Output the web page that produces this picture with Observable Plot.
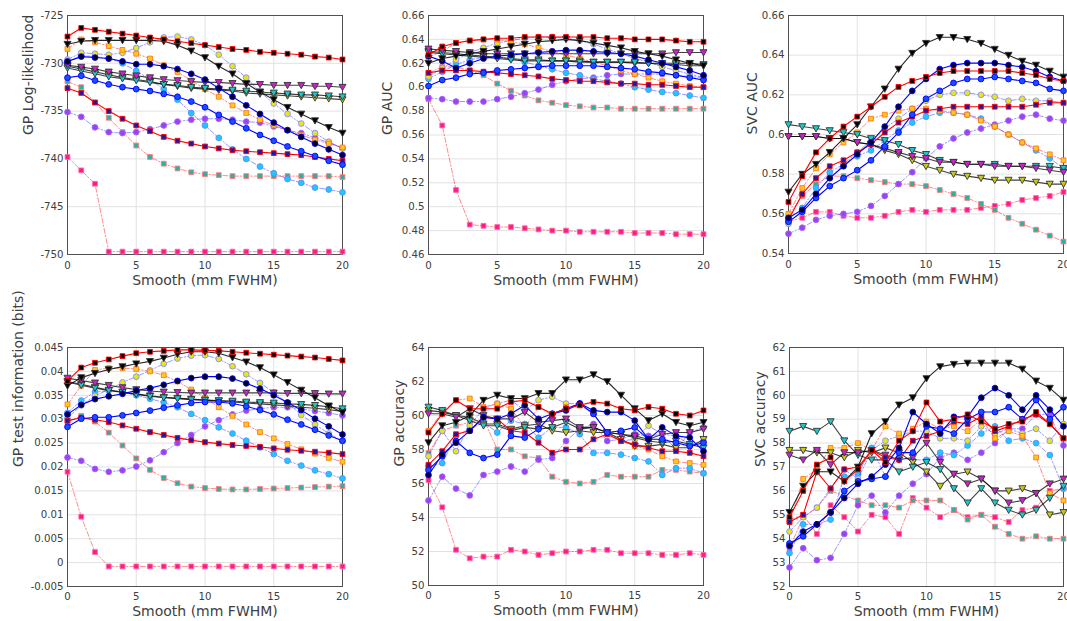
<!DOCTYPE html>
<html>
<head>
<meta charset="utf-8">
<script src="https://cdn.jsdelivr.net/npm/d3@7"></script>
<script src="https://cdn.jsdelivr.net/npm/@observablehq/plot@0.6"></script>
<style>
  html, body { margin: 0; padding: 0; background: #fff; }
  #chart { position: relative; width: 1067px; height: 621px; background: #fff; overflow: hidden; }
  #chart > svg { position: absolute; }
</style>
</head>
<body>
<div id="chart"></div>
<script>
// ---------- categories ----------
const smooth = [0,1,2,3,4,5,6,7,8,9,10,11,12,13,14,15,16,17,18,19,20];
const xTicks = [0,5,10,15,20];
const seriesNames = ["S1","S2","S3","S4","S5","S6","S7","S8","S9","S10","S11","S12","S13","S14"];

// ---------- tick labels ----------
const ticksGpLogLik = [-750,-745,-740,-735,-730,-725];
const ticksGpAuc = [0.46,0.48,0.5,0.52,0.54,0.56,0.58,0.6,0.62,0.64,0.66];
const ticksSvcAuc = [0.54,0.56,0.58,0.6,0.62,0.64,0.66];
const ticksGpInfo = [-0.005,0,0.005,0.01,0.015,0.02,0.025,0.03,0.035,0.04,0.045];
const ticksGpAcc = [50,52,54,56,58,60,62,64];
const ticksSvcAcc = [52,53,54,55,56,57,58,59,60,61,62];

// ---------- series values (one row per series S1..S14) ----------
const gpLogLik = [
  [-727.2,-726.3,-726.5,-726.7,-726.9,-727.1,-727.3,-727.5,-727.7,-727.9,-728.1,-728.3,-728.5,-728.6,-728.8,-728.9,-729.0,-729.1,-729.3,-729.4,-729.6],
  [-728.0,-727.7,-727.6,-727.6,-727.6,-727.6,-727.6,-727.7,-728.1,-728.7,-729.4,-730.3,-731.1,-732.1,-733.0,-733.8,-734.6,-735.3,-736.0,-736.7,-737.3],
  [-729.8,-729.3,-729.4,-729.5,-729.8,-730.1,-730.1,-730.3,-730.6,-731.1,-731.7,-732.6,-733.5,-734.4,-735.3,-736.2,-737.0,-737.7,-738.4,-739.0,-739.6],
  [-731.5,-731.3,-731.8,-732.2,-732.5,-732.7,-732.9,-733.2,-733.5,-734.0,-734.6,-735.4,-736.1,-736.8,-737.5,-738.1,-738.7,-739.2,-739.7,-740.2,-740.6],
  [-732.6,-733.1,-734.1,-735.0,-735.8,-736.5,-737.1,-737.7,-738.1,-738.4,-738.7,-738.9,-739.1,-739.2,-739.3,-739.4,-739.5,-739.6,-739.8,-740.0,-740.2],
  [-730.2,-730.4,-730.6,-730.9,-731.1,-731.3,-731.5,-731.7,-731.8,-731.9,-732.0,-732.0,-732.1,-732.2,-732.2,-732.3,-732.3,-732.3,-732.4,-732.4,-732.5],
  [-730.5,-730.8,-731.1,-731.4,-731.6,-731.8,-732.0,-732.2,-732.3,-732.5,-732.6,-732.7,-732.8,-732.9,-733.0,-733.1,-733.2,-733.3,-733.3,-733.4,-733.5],
  [-730.3,-730.6,-730.9,-731.2,-731.5,-731.7,-731.9,-732.2,-732.4,-732.6,-732.7,-732.8,-732.9,-733.1,-733.2,-733.3,-733.4,-733.5,-733.6,-733.7,-733.8],
  [-728.5,-727.5,-727.8,-728.2,-728.6,-729.0,-729.5,-730.2,-730.9,-731.8,-732.7,-733.5,-734.4,-735.2,-735.9,-736.5,-737.0,-737.5,-738.0,-738.4,-738.8],
  [-729.6,-728.9,-729.0,-729.1,-728.9,-728.4,-727.8,-727.3,-727.2,-727.5,-728.1,-729.1,-730.3,-731.5,-733.0,-734.2,-735.3,-736.3,-737.3,-738.2,-738.9],
  [-729.9,-729.2,-729.3,-729.5,-730.0,-730.8,-731.7,-732.7,-733.8,-735.2,-736.5,-737.8,-739.0,-740.0,-740.8,-741.5,-742.1,-742.5,-743.0,-743.2,-743.5],
  [-735.1,-735.6,-736.7,-737.2,-737.3,-737.2,-736.9,-736.5,-736.1,-735.9,-735.8,-735.8,-735.9,-736.1,-736.2,-736.6,-737.0,-737.3,-737.8,-738.3,-738.9],
  [-731.9,-732.5,-734.1,-735.7,-737.2,-738.6,-739.8,-740.5,-741.0,-741.4,-741.6,-741.7,-741.8,-741.8,-741.8,-741.8,-741.8,-741.8,-741.8,-741.8,-741.9],
  [-739.8,-741.2,-742.6,-749.7,-749.7,-749.7,-749.7,-749.7,-749.7,-749.7,-749.7,-749.7,-749.7,-749.7,-749.7,-749.7,-749.7,-749.7,-749.7,-749.7,-749.7]
];
const gpAuc = [
  [0.627,0.634,0.637,0.639,0.640,0.641,0.641,0.642,0.642,0.642,0.642,0.642,0.642,0.641,0.641,0.640,0.640,0.640,0.639,0.638,0.638],
  [0.620,0.624,0.626,0.628,0.630,0.632,0.634,0.636,0.638,0.639,0.640,0.639,0.637,0.635,0.633,0.630,0.628,0.626,0.623,0.620,0.618],
  [0.626,0.622,0.616,0.620,0.624,0.626,0.627,0.628,0.629,0.630,0.631,0.631,0.630,0.629,0.628,0.626,0.623,0.620,0.617,0.614,0.610],
  [0.601,0.606,0.608,0.611,0.612,0.614,0.615,0.616,0.617,0.618,0.618,0.618,0.618,0.617,0.616,0.615,0.613,0.612,0.610,0.608,0.606],
  [0.612,0.614,0.614,0.614,0.613,0.612,0.611,0.610,0.609,0.607,0.606,0.605,0.605,0.604,0.603,0.603,0.602,0.602,0.601,0.600,0.600],
  [0.632,0.631,0.630,0.629,0.628,0.628,0.628,0.628,0.628,0.628,0.628,0.628,0.628,0.628,0.628,0.628,0.628,0.628,0.629,0.629,0.629],
  [0.629,0.628,0.627,0.626,0.625,0.624,0.623,0.622,0.622,0.622,0.622,0.621,0.621,0.621,0.621,0.621,0.620,0.620,0.620,0.620,0.619],
  [0.630,0.629,0.628,0.627,0.626,0.625,0.624,0.623,0.623,0.622,0.622,0.622,0.621,0.621,0.621,0.620,0.620,0.619,0.619,0.618,0.618],
  [0.625,0.630,0.637,0.639,0.640,0.640,0.638,0.636,0.633,0.630,0.627,0.624,0.621,0.618,0.614,0.611,0.608,0.605,0.603,0.601,0.600],
  [0.609,0.616,0.623,0.629,0.633,0.637,0.639,0.641,0.642,0.642,0.641,0.639,0.636,0.632,0.628,0.624,0.621,0.617,0.614,0.611,0.608],
  [0.607,0.613,0.619,0.623,0.625,0.625,0.624,0.621,0.618,0.615,0.612,0.610,0.607,0.605,0.603,0.600,0.598,0.596,0.595,0.593,0.591],
  [0.591,0.590,0.588,0.588,0.588,0.590,0.592,0.595,0.598,0.602,0.605,0.607,0.608,0.610,0.611,0.611,0.611,0.611,0.610,0.609,0.608],
  [0.612,0.617,0.617,0.614,0.610,0.603,0.597,0.593,0.589,0.587,0.585,0.584,0.583,0.583,0.582,0.582,0.582,0.582,0.582,0.582,0.582],
  [0.590,0.568,0.514,0.485,0.484,0.483,0.483,0.482,0.481,0.480,0.480,0.479,0.479,0.479,0.479,0.478,0.478,0.478,0.477,0.477,0.477]
];
const svcAuc = [
  [0.566,0.579,0.591,0.598,0.604,0.609,0.614,0.619,0.624,0.627,0.629,0.631,0.632,0.632,0.632,0.632,0.632,0.631,0.630,0.628,0.627],
  [0.571,0.580,0.585,0.591,0.598,0.605,0.614,0.623,0.633,0.641,0.646,0.649,0.649,0.648,0.646,0.643,0.640,0.637,0.635,0.632,0.629],
  [0.558,0.562,0.570,0.578,0.584,0.590,0.596,0.604,0.614,0.622,0.628,0.633,0.635,0.636,0.636,0.636,0.635,0.634,0.632,0.629,0.627],
  [0.556,0.561,0.568,0.574,0.578,0.582,0.587,0.594,0.601,0.610,0.618,0.622,0.626,0.628,0.628,0.629,0.628,0.627,0.626,0.623,0.622],
  [0.557,0.570,0.578,0.584,0.587,0.591,0.595,0.601,0.606,0.609,0.612,0.613,0.614,0.614,0.614,0.614,0.614,0.614,0.615,0.616,0.616],
  [0.599,0.599,0.599,0.598,0.598,0.596,0.595,0.593,0.591,0.589,0.588,0.586,0.586,0.585,0.585,0.584,0.584,0.584,0.583,0.582,0.581],
  [0.605,0.604,0.603,0.602,0.601,0.600,0.598,0.597,0.595,0.592,0.590,0.587,0.586,0.585,0.585,0.585,0.584,0.584,0.584,0.584,0.583],
  [0.599,0.599,0.599,0.598,0.598,0.596,0.595,0.592,0.590,0.587,0.584,0.582,0.580,0.579,0.578,0.577,0.577,0.577,0.576,0.575,0.575],
  [0.560,0.573,0.583,0.590,0.596,0.601,0.608,0.610,0.612,0.613,0.613,0.612,0.611,0.610,0.607,0.604,0.600,0.596,0.593,0.590,0.587],
  [0.555,0.562,0.570,0.578,0.585,0.591,0.597,0.603,0.608,0.613,0.617,0.620,0.621,0.621,0.620,0.619,0.617,0.618,0.617,0.617,0.616],
  [0.557,0.563,0.573,0.581,0.585,0.589,0.592,0.597,0.602,0.606,0.609,0.611,0.611,0.610,0.608,0.604,0.600,0.596,0.592,0.588,0.583],
  [0.550,0.553,0.557,0.559,0.560,0.561,0.564,0.569,0.575,0.581,0.588,0.594,0.598,0.601,0.603,0.605,0.607,0.609,0.610,0.608,0.607],
  [0.559,0.569,0.575,0.579,0.579,0.578,0.577,0.576,0.575,0.575,0.574,0.572,0.570,0.568,0.565,0.562,0.558,0.555,0.552,0.549,0.546],
  [0.556,0.558,0.561,0.561,0.559,0.558,0.558,0.559,0.561,0.562,0.561,0.562,0.562,0.562,0.563,0.564,0.565,0.567,0.568,0.569,0.571]
];
const gpInfo = [
  [0.0380,0.0408,0.0418,0.0425,0.0432,0.0438,0.0441,0.0443,0.0445,0.0445,0.0444,0.0443,0.0441,0.0439,0.0437,0.0435,0.0433,0.0431,0.0429,0.0426,0.0423],
  [0.0370,0.0387,0.0396,0.0404,0.0410,0.0416,0.0421,0.0428,0.0436,0.0441,0.0441,0.0438,0.0429,0.0420,0.0408,0.0393,0.0377,0.0361,0.0345,0.0328,0.0314],
  [0.0310,0.0330,0.0342,0.0348,0.0353,0.0360,0.0365,0.0372,0.0380,0.0386,0.0389,0.0389,0.0385,0.0375,0.0364,0.0350,0.0335,0.0319,0.0301,0.0285,0.0268],
  [0.0284,0.0301,0.0304,0.0304,0.0308,0.0313,0.0318,0.0324,0.0329,0.0334,0.0336,0.0336,0.0333,0.0327,0.0319,0.0310,0.0299,0.0289,0.0278,0.0266,0.0255],
  [0.0297,0.0303,0.0299,0.0294,0.0287,0.0280,0.0273,0.0267,0.0261,0.0256,0.0252,0.0249,0.0246,0.0244,0.0242,0.0239,0.0236,0.0234,0.0232,0.0230,0.0227],
  [0.0386,0.0381,0.0376,0.0371,0.0366,0.0362,0.0359,0.0357,0.0356,0.0355,0.0355,0.0355,0.0355,0.0355,0.0355,0.0355,0.0354,0.0354,0.0354,0.0353,0.0353],
  [0.0378,0.0371,0.0365,0.0360,0.0356,0.0352,0.0348,0.0345,0.0343,0.0341,0.0340,0.0339,0.0338,0.0336,0.0335,0.0334,0.0332,0.0331,0.0329,0.0326,0.0322],
  [0.0379,0.0373,0.0367,0.0361,0.0357,0.0353,0.0349,0.0346,0.0344,0.0342,0.0340,0.0338,0.0336,0.0334,0.0332,0.0330,0.0328,0.0325,0.0323,0.0320,0.0316],
  [0.0331,0.0370,0.0403,0.0407,0.0407,0.0405,0.0400,0.0392,0.0379,0.0362,0.0345,0.0325,0.0307,0.0289,0.0273,0.0260,0.0248,0.0237,0.0228,0.0219,0.0211],
  [0.0302,0.0329,0.0349,0.0362,0.0377,0.0389,0.0402,0.0416,0.0427,0.0433,0.0434,0.0426,0.0411,0.0394,0.0376,0.0356,0.0334,0.0309,0.0289,0.0270,0.0254],
  [0.0313,0.0339,0.0357,0.0360,0.0357,0.0350,0.0343,0.0335,0.0325,0.0311,0.0298,0.0283,0.0270,0.0255,0.0241,0.0227,0.0213,0.0203,0.0193,0.0185,0.0176],
  [0.0220,0.0213,0.0196,0.0190,0.0193,0.0201,0.0214,0.0231,0.0250,0.0267,0.0285,0.0298,0.0310,0.0318,0.0322,0.0325,0.0325,0.0322,0.0317,0.0313,0.0308],
  [0.0294,0.0307,0.0295,0.0272,0.0245,0.0218,0.0194,0.0177,0.0166,0.0159,0.0156,0.0154,0.0153,0.0153,0.0154,0.0155,0.0156,0.0157,0.0158,0.0159,0.0160],
  [0.0190,0.0096,0.0022,-0.0008,-0.0008,-0.0008,-0.0008,-0.0008,-0.0008,-0.0008,-0.0008,-0.0008,-0.0008,-0.0008,-0.0008,-0.0008,-0.0008,-0.0008,-0.0008,-0.0008,-0.0008]
];
const gpAcc = [
  [59.0,60.1,60.9,60.4,60.4,60.4,60.8,60.9,60.5,60.1,60.4,60.6,60.8,60.7,60.4,60.3,60.5,60.4,60.1,60.0,60.3],
  [58.4,59.4,59.6,60.0,60.9,61.2,61.0,61.0,61.3,61.3,62.1,62.1,62.4,62.0,61.2,60.4,59.7,60.1,59.6,59.4,59.6],
  [56.5,57.7,58.4,59.1,59.9,59.8,60.1,60.6,59.8,60.1,60.3,60.7,60.3,60.2,60.2,59.7,58.6,59.3,58.8,58.7,57.9],
  [56.8,57.6,58.5,57.8,57.5,57.7,58.8,58.7,59.2,60.1,60.4,60.7,60.1,59.0,59.1,59.3,58.6,58.6,58.4,58.2,58.4],
  [57.1,57.9,58.9,59.1,59.9,59.8,59.1,59.0,58.4,57.8,58.0,58.0,58.6,58.9,58.5,58.3,58.1,57.9,57.9,57.8,57.6],
  [60.1,60.1,59.9,60.4,60.0,59.8,59.8,60.2,59.6,59.7,59.8,59.3,59.3,59.0,58.9,58.8,58.6,58.9,59.0,59.0,59.2],
  [60.5,60.3,60.0,59.7,59.4,59.4,59.1,59.3,59.2,59.3,59.6,59.2,59.3,59.0,58.9,58.7,58.5,58.4,58.5,58.3,58.1],
  [60.3,60.2,60.0,59.9,59.5,59.5,59.2,59.4,59.5,59.1,59.0,59.1,59.0,59.0,58.6,58.2,58.2,58.3,58.1,58.1,58.6],
  [59.1,60.2,60.9,61.0,60.5,60.7,60.4,59.3,60.5,60.0,60.5,60.6,60.1,59.0,58.5,58.2,58.0,57.6,57.3,57.2,57.1],
  [57.6,59.1,57.9,59.4,60.4,60.7,60.9,60.3,60.9,61.1,60.7,60.7,60.1,59.0,58.5,58.6,59.4,58.9,58.8,58.3,58.5],
  [57.0,57.2,58.8,59.2,59.6,59.0,59.7,59.5,58.7,59.3,59.3,58.9,57.8,57.8,57.7,57.5,57.3,56.5,56.9,56.9,56.6],
  [55.0,56.4,55.7,55.3,56.5,56.7,57.0,56.7,57.4,57.5,58.5,59.2,59.5,58.5,58.6,58.9,58.8,58.9,58.0,59.0,59.3],
  [57.8,59.1,59.4,59.6,59.8,58.0,58.0,57.6,57.5,56.4,56.1,56.0,56.1,56.5,56.4,56.4,56.4,56.8,56.8,56.7,56.6],
  [56.2,54.6,52.1,51.6,51.7,51.7,52.1,52.0,51.8,51.9,52.0,52.0,52.1,52.1,51.9,51.9,51.9,51.8,51.8,51.9,51.8]
];
const svcAcc = [
  [54.9,56.0,57.1,57.4,56.4,56.9,57.7,57.2,58.1,58.5,59.7,58.9,59.0,59.2,58.9,58.6,58.8,58.9,59.3,58.8,58.2],
  [55.1,56.2,56.8,56.8,56.4,57.0,58.4,58.9,59.6,59.9,60.7,61.2,61.3,61.35,61.35,61.35,61.35,61.1,60.6,60.3,59.8],
  [53.7,54.3,54.6,55.1,55.7,56.3,56.6,57.1,57.8,59.3,58.8,58.4,59.1,59.1,59.9,60.3,60.0,59.4,60.0,59.4,58.7],
  [53.8,54.1,54.6,55.1,56.0,56.4,56.5,56.6,57.6,57.6,58.7,58.6,58.4,59.0,59.3,59.3,59.5,59.0,59.8,59.0,59.5],
  [54.7,55.0,56.8,56.1,56.9,57.0,57.7,57.4,57.3,58.1,58.3,58.5,58.9,58.8,59.1,58.5,58.7,59.0,59.2,58.8,58.2],
  [57.5,57.3,57.7,57.1,57.6,57.6,57.7,57.5,57.3,57.4,58.0,57.2,56.7,56.3,56.5,56.0,55.5,55.6,55.9,56.3,56.5],
  [58.5,58.7,58.5,58.9,58.1,57.5,57.3,57.3,56.8,57.0,57.2,56.9,56.1,55.5,56.1,55.5,55.2,55.0,55.2,55.7,56.2],
  [57.7,57.7,57.6,57.6,57.4,57.7,57.6,57.8,57.6,57.2,56.8,56.2,56.7,56.8,56.5,56.0,56.0,56.1,55.9,55.0,55.1],
  [54.7,56.5,56.9,57.8,57.8,58.0,57.7,58.7,58.4,58.6,58.9,58.6,58.7,58.5,59.0,58.2,58.5,58.3,57.4,55.9,55.6],
  [54.3,54.9,55.3,56.1,56.9,56.5,57.7,58.1,58.3,58.5,58.5,58.2,58.2,58.1,58.7,58.4,58.6,58.4,58.6,58.1,58.8],
  [53.4,54.6,54.6,54.8,56.6,56.7,57.8,56.6,57.4,57.3,57.3,57.6,57.5,57.9,58.4,58.7,58.1,58.2,58.0,57.5,56.1],
  [52.8,53.6,53.1,53.2,54.2,55.4,55.8,55.1,55.8,56.3,56.7,57.4,57.6,57.3,57.6,58.0,58.6,58.6,59.2,59.2,57.9],
  [53.6,54.9,55.3,56.0,55.8,55.6,55.4,55.4,55.3,55.6,55.6,55.6,55.2,54.8,55.0,54.5,54.2,54.0,54.1,54.0,54.0],
  [54.8,55.0,54.2,55.4,54.9,54.3,55.0,54.9,54.2,55.7,55.3,54.9,55.2,54.9,55.0,54.9,54.7,55.2,55.3,56.0,56.1]
];

// ---------- series styles ----------
const lineColor = ["#ff0000","#000000","#0000ff","#0000ff","#ff0000","#000000","#000000","#000000","#ff0000","#0000ff","#0000ff","#0000ff","#ff0000","#ff0000"];
const lineOpacity = [1,0.85,1,1,1,0.75,0.75,0.75,0.45,0.4,0.4,0.4,0.45,0.45];
const dashed = [false,false,false,false,false,false,false,false,true,true,true,true,true,true];
const markFill = ["#000000","#000000","#000022","#1a4dff","#1a1aa8","#cc22cc","#1ec8c8","#c8c81e","#ffc81e","#e6e61e","#1ec8ff","#a040f0","#2ab0a8","#ff1a8c"];
const markEdge = ["#ff0000","#333333","#0000ff","#0000ff","#ff0000","#333333","#333333","#333333","#ff7a1a","#8a8aff","#5a8aff","#9a6aff","#ff7a7a","#ff6aa0"];
const markShape = ["square","down","circle","circle","square","down","down","down","square","circle","circle","circle","square","square"];
const drawOrder = [13,12,11,10,9,8,7,6,5,4,3,2,1,0];

const triangleDown = {
  draw(ctx, size) {
    const h = Math.sqrt(size);
    ctx.moveTo(-0.62 * h, -0.5 * h);
    ctx.lineTo(0.62 * h, -0.5 * h);
    ctx.lineTo(0, 0.6 * h);
    ctx.closePath();
  }
};

const FONT = "DejaVu Sans, sans-serif";
const TEXT = "#404040";

function panel(cfg) {
  const rows = [];
  cfg.values.forEach((ys, i) => ys.forEach((v, j) => rows.push({s: seriesNames[i], i, x: smooth[j], y: v})));
  const marks = [
    Plot.gridX(xTicks, {stroke: "#e2e2e2", strokeOpacity: 1}),
    Plot.gridY(cfg.ticks, {stroke: "#e2e2e2", strokeOpacity: 1}),
    Plot.frame({stroke: "#505050", strokeWidth: 1})
  ];
  for (const i of drawOrder) {
    const d = rows.filter(r => r.i === i);
    marks.push(Plot.line(d, {
      x: "x", y: "y", stroke: lineColor[i], strokeOpacity: lineOpacity[i],
      strokeWidth: dashed[i] ? 1 : 1.1,
      strokeDasharray: dashed[i] ? "5,2,1.5,2" : null
    }));
    const shape = markShape[i];
    marks.push(Plot.dot(d, {
      x: "x", y: "y",
      symbol: shape === "down" ? triangleDown : shape,
      r: shape === "circle" ? 2.9 : shape === "square" ? 2.7 : 3.2,
      fill: markFill[i], stroke: markEdge[i], strokeWidth: 0.9
    }));
  }
  marks.push(
    Plot.axisX(xTicks, {tickSize: 0, tickPadding: cfg.xpad, fontSize: 10.2, fill: TEXT, tickFormat: d => String(d), label: null}),
    Plot.axisY(cfg.ticks, {tickSize: 0, tickPadding: 4, fontSize: 10.2, fill: TEXT, tickFormat: d => String(d), label: null}),
    Plot.text([cfg.xLabel], {frameAnchor: "bottom", lineAnchor: "top", dy: cfg.xdy, fontSize: 14, fill: TEXT, text: d => d}),
    Plot.text([cfg.yLabel], {frameAnchor: "left", lineAnchor: "top", rotate: -90, dx: cfg.ydx, fontSize: 14, fill: TEXT, text: d => d})
  );
  const svg = Plot.plot({
    width: cfg.w, height: cfg.h,
    marginLeft: cfg.ml, marginRight: cfg.mr, marginTop: cfg.mt, marginBottom: cfg.mb,
    x: {domain: [0, 20]},
    y: {domain: [cfg.ticks[0], cfg.ticks[cfg.ticks.length - 1]]},
    style: {fontFamily: FONT, background: "transparent", overflow: "visible"},
    marks
  });
  svg.style.left = cfg.left + "px";
  svg.style.top = cfg.top + "px";
  document.getElementById("chart").appendChild(svg);
}

const xLabel = "Smooth (mm FWHM)";
panel({values: gpLogLik, ticks: ticksGpLogLik, yLabel: "GP Log-likelihood", xLabel, left: 0, top: 0, w: 355, h: 300, ml: 67, mr: 13, mt: 15, mb: 46, xpad: 7.5, xdy: 21, ydx: -44});
panel({values: gpAuc, ticks: ticksGpAuc, yLabel: "GP AUC", xLabel, left: 355, top: 0, w: 355, h: 300, ml: 73, mr: 7, mt: 15, mb: 46, xpad: 7.5, xdy: 21, ydx: -46});
panel({values: svcAuc, ticks: ticksSvcAuc, yLabel: "SVC AUC", xLabel, left: 710, top: 0, w: 357, h: 300, ml: 78, mr: 4, mt: 15, mb: 47, xpad: 7.5, xdy: 21, ydx: -41});
panel({values: gpInfo, ticks: ticksGpInfo, yLabel: "GP test information (bits)", xLabel, left: 0, top: 300, w: 355, h: 321, ml: 67, mr: 13, mt: 47, mb: 35, xpad: 6, xdy: 20, ydx: -54});
panel({values: gpAcc, ticks: ticksGpAcc, yLabel: "GP accuracy", xLabel, left: 355, top: 300, w: 355, h: 321, ml: 73, mr: 7, mt: 47, mb: 36, xpad: 6, xdy: 20, ydx: -34});
panel({values: svcAcc, ticks: ticksSvcAcc, yLabel: "SVC accuracy", xLabel, left: 710, top: 300, w: 357, h: 321, ml: 79, mr: 4, mt: 47, mb: 35, xpad: 6, xdy: 20, ydx: -34});
</script>
</body>
</html>
